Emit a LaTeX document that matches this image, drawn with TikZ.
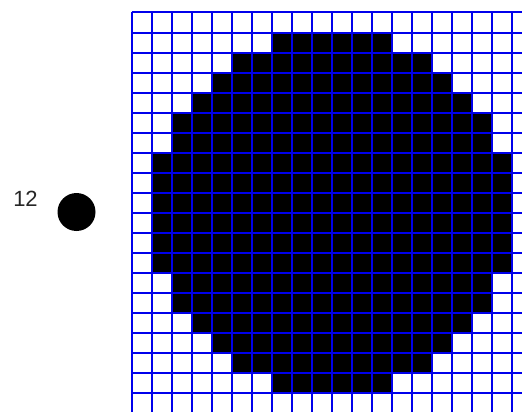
\documentclass[tikz,border=0pt]{standalone}
\usepackage{fontspec}
\setmainfont{Liberation Sans}
\begin{document}
\begin{tikzpicture}[x=1pt,y=-1pt,
  gridline/.style={draw=blue!92!black, line width=2pt},
  cellfill/.style={fill=black},
  dotstyle/.style={circle, fill=black, minimum size=38pt, inner sep=0pt},
  lblstyle/.style={font=\fontsize{22}{22}\selectfont, text=black!85, inner sep=0pt}]
\useasboundingbox (0,0) rectangle (522,412);
\begin{scope}
\clip (0,0) rectangle (522,412);
\foreach \r/\a/\b in {1/7/12, 2/5/14, 3/4/15, 4/3/16, 5/2/17, 6/2/17,
                      7/1/18, 8/1/18, 9/1/18, 10/1/18, 11/1/18, 12/1/18,
                      13/2/17, 14/2/17, 15/3/16, 16/4/15, 17/5/14, 18/7/12} {
  \fill[cellfill] ({131.7+20*\a},{12.5+20.05*\r}) rectangle ({131.7+20*(\b+1)},{12.5+20.05*(\r+1)});
}
\foreach \k in {0,...,20} {
  \draw[gridline] ({131.7+20*\k},12.5) -- ({131.7+20*\k},430);
  \draw[gridline] (131.7,{12.5+20.05*\k}) -- (540,{12.5+20.05*\k});
}
\end{scope}
\node[dotstyle] (dot) at (76.5,212) {};
\node[lblstyle] (lbl) at (25.5,199) {12};
\end{tikzpicture}
\end{document}
